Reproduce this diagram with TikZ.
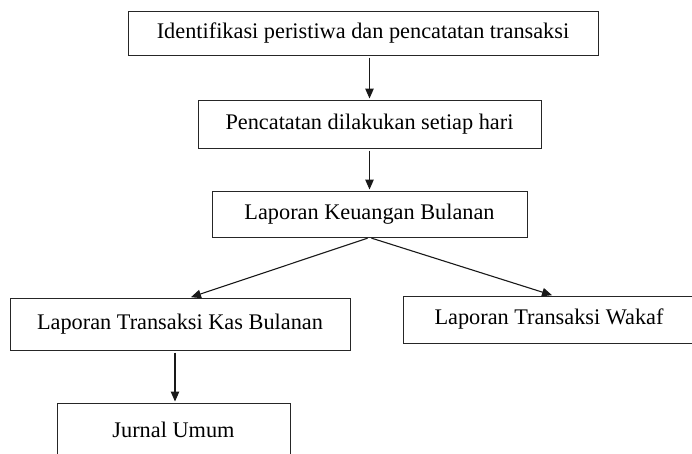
\documentclass[tikz,border=0pt]{standalone}
\usepackage{fontspec}
\setmainfont{Liberation Serif}
\usetikzlibrary{positioning,arrows.meta}

\begin{document}
\begin{tikzpicture}[
    x=1pt, y=-1pt,
    box/.style={rectangle, draw=black!85, line width=1pt, inner sep=0pt, align=center, font=\fontsize{22.3}{26}\selectfont},
    arrow/.style={-{Triangle[length=10pt,width=8.5pt]}, line width=1.1pt, draw=black!90, shorten >=1pt, shorten <=2pt}
]
\clip (0,0) rectangle (692,453);

% Top chain
\node[box, minimum width=470pt, minimum height=44pt] (ident) at (363,33) {Identifikasi peristiwa dan pencatatan transaksi};
\node[box, minimum width=343pt, minimum height=48pt] (harian) at (369.5,124) {Pencatatan dilakukan setiap hari};
\node[box, minimum width=315pt, minimum height=46pt] (bulanan) at (369.5,214) {Laporan Keuangan Bulanan};

% Reports
\node[box, minimum width=340pt, minimum height=52pt] (kas) at (180,324) {Laporan Transaksi Kas Bulanan};
\node[box, minimum width=292pt, minimum height=47pt] (wakaf) at (549,319.5) {Laporan Transaksi Wakaf};

% Journal
\node[box, minimum width=233pt, minimum height=54pt] (jurnal) at (173.5,430) {Jurnal Umum};

% Arrows
\draw[arrow] (ident.south -| harian) -- (harian);
\draw[arrow] (harian) -- (bulanan);
\draw[arrow] (bulanan.south) -- ([xshift=10pt]kas.north);
\draw[arrow] (bulanan.south) -- ([xshift=4pt]wakaf.north);
\draw[arrow] ([xshift=-5pt]kas.south) -- ([xshift=1.5pt]jurnal.north);

\end{tikzpicture}
\end{document}
